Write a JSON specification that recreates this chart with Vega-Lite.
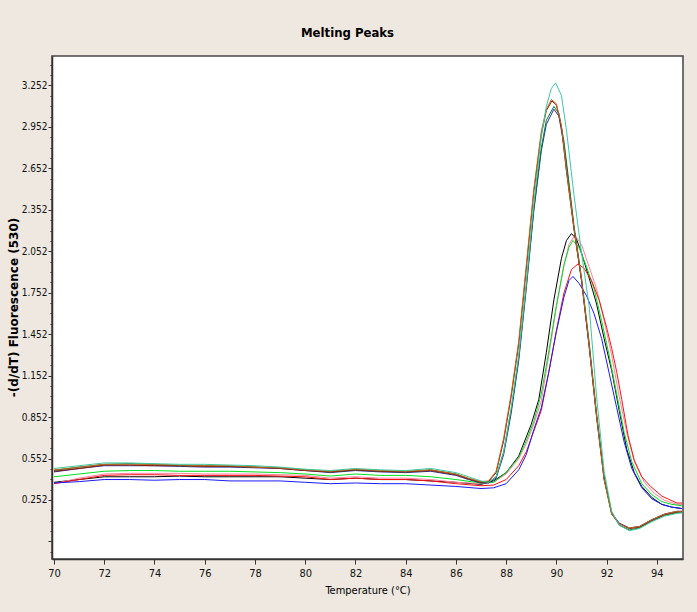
{
  "$schema": "https://vega.github.io/schema/vega-lite/v6.json",
  "autosize": {"type": "none"},
  "padding": {"left": 52, "top": 56, "right": 14, "bottom": 53},
  "width": 631,
  "height": 503,
  "background": "#EEE8E0",
  "title": {"text": "Melting Peaks", "font": "DejaVu Sans Condensed", "fontSize": 13, "fontWeight": "bold", "color": "#000000", "anchor": "middle", "dx": -20, "offset": 16},
  "config": {"view": {"stroke": "#444444", "strokeWidth": 1.5, "fill": "#FFFFFF"}},
  "data": {"values": [
{"s":"B1","t":70,"v":0.38},{"s":"B1","t":71,"v":0.40},{"s":"B1","t":72,"v":0.42},{"s":"B1","t":73,"v":0.42},{"s":"B1","t":74,"v":0.42},{"s":"B1","t":75,"v":0.425},{"s":"B1","t":76,"v":0.42},{"s":"B1","t":77,"v":0.42},{"s":"B1","t":78,"v":0.42},{"s":"B1","t":79,"v":0.42},{"s":"B1","t":80,"v":0.41},{"s":"B1","t":81,"v":0.40},{"s":"B1","t":82,"v":0.41},{"s":"B1","t":83,"v":0.40},{"s":"B1","t":84,"v":0.40},{"s":"B1","t":85,"v":0.39},{"s":"B1","t":86,"v":0.38},{"s":"B1","t":87,"v":0.365},{"s":"B1","t":87.5,"v":0.39},{"s":"B1","t":88.0,"v":0.45},{"s":"B1","t":88.5,"v":0.57},{"s":"B1","t":89.0,"v":0.80},{"s":"B1","t":89.3,"v":0.98},{"s":"B1","t":89.6,"v":1.32},{"s":"B1","t":89.9,"v":1.70},{"s":"B1","t":90.2,"v":2.00},{"s":"B1","t":90.4,"v":2.13},{"s":"B1","t":90.6,"v":2.18},{"s":"B1","t":90.8,"v":2.14},{"s":"B1","t":91.0,"v":2.04},{"s":"B1","t":91.3,"v":1.86},{"s":"B1","t":91.6,"v":1.67},{"s":"B1","t":91.9,"v":1.42},{"s":"B1","t":92.2,"v":1.19},{"s":"B1","t":92.5,"v":0.90},{"s":"B1","t":92.8,"v":0.62},{"s":"B1","t":93.1,"v":0.45},{"s":"B1","t":93.4,"v":0.35},{"s":"B1","t":93.8,"v":0.27},{"s":"B1","t":94.2,"v":0.22},{"s":"B1","t":94.6,"v":0.20},{"s":"B1","t":95.0,"v":0.19},
{"s":"B2","t":70,"v":0.37},{"s":"B2","t":71,"v":0.41},{"s":"B2","t":72,"v":0.44},{"s":"B2","t":73,"v":0.445},{"s":"B2","t":74,"v":0.445},{"s":"B2","t":75,"v":0.445},{"s":"B2","t":76,"v":0.44},{"s":"B2","t":77,"v":0.44},{"s":"B2","t":78,"v":0.44},{"s":"B2","t":79,"v":0.435},{"s":"B2","t":80,"v":0.43},{"s":"B2","t":81,"v":0.41},{"s":"B2","t":82,"v":0.42},{"s":"B2","t":83,"v":0.41},{"s":"B2","t":84,"v":0.41},{"s":"B2","t":85,"v":0.40},{"s":"B2","t":86,"v":0.38},{"s":"B2","t":87,"v":0.37},{"s":"B2","t":87.5,"v":0.38},{"s":"B2","t":88.0,"v":0.44},{"s":"B2","t":88.5,"v":0.55},{"s":"B2","t":88.8,"v":0.66},{"s":"B2","t":89.1,"v":0.80},{"s":"B2","t":89.4,"v":0.97},{"s":"B2","t":89.7,"v":1.30},{"s":"B2","t":90.0,"v":1.65},{"s":"B2","t":90.3,"v":1.95},{"s":"B2","t":90.5,"v":2.10},{"s":"B2","t":90.73,"v":2.17},{"s":"B2","t":91.0,"v":2.10},{"s":"B2","t":91.3,"v":1.94},{"s":"B2","t":91.6,"v":1.78},{"s":"B2","t":91.9,"v":1.55},{"s":"B2","t":92.2,"v":1.30},{"s":"B2","t":92.5,"v":1.00},{"s":"B2","t":92.8,"v":0.74},{"s":"B2","t":93.1,"v":0.53},{"s":"B2","t":93.5,"v":0.38},{"s":"B2","t":93.9,"v":0.30},{"s":"B2","t":94.3,"v":0.25},{"s":"B2","t":94.8,"v":0.22},{"s":"B2","t":95.0,"v":0.22},
{"s":"B3","t":70,"v":0.42},{"s":"B3","t":71,"v":0.44},{"s":"B3","t":72,"v":0.46},{"s":"B3","t":73,"v":0.465},{"s":"B3","t":74,"v":0.465},{"s":"B3","t":75,"v":0.46},{"s":"B3","t":76,"v":0.46},{"s":"B3","t":77,"v":0.46},{"s":"B3","t":78,"v":0.455},{"s":"B3","t":79,"v":0.45},{"s":"B3","t":80,"v":0.44},{"s":"B3","t":81,"v":0.425},{"s":"B3","t":82,"v":0.44},{"s":"B3","t":83,"v":0.43},{"s":"B3","t":84,"v":0.43},{"s":"B3","t":85,"v":0.42},{"s":"B3","t":86,"v":0.40},{"s":"B3","t":87,"v":0.375},{"s":"B3","t":87.5,"v":0.38},{"s":"B3","t":88.0,"v":0.45},{"s":"B3","t":88.5,"v":0.56},{"s":"B3","t":88.8,"v":0.68},{"s":"B3","t":89.1,"v":0.82},{"s":"B3","t":89.4,"v":1.02},{"s":"B3","t":89.7,"v":1.33},{"s":"B3","t":90.0,"v":1.66},{"s":"B3","t":90.3,"v":1.95},{"s":"B3","t":90.5,"v":2.08},{"s":"B3","t":90.66,"v":2.13},{"s":"B3","t":90.9,"v":2.08},{"s":"B3","t":91.2,"v":1.94},{"s":"B3","t":91.5,"v":1.78},{"s":"B3","t":91.8,"v":1.55},{"s":"B3","t":92.1,"v":1.30},{"s":"B3","t":92.4,"v":1.02},{"s":"B3","t":92.7,"v":0.74},{"s":"B3","t":93.0,"v":0.53},{"s":"B3","t":93.4,"v":0.37},{"s":"B3","t":93.8,"v":0.29},{"s":"B3","t":94.2,"v":0.24},{"s":"B3","t":94.6,"v":0.22},{"s":"B3","t":95.0,"v":0.21},
{"s":"B4","t":70,"v":0.37},{"s":"B4","t":71,"v":0.40},{"s":"B4","t":72,"v":0.43},{"s":"B4","t":73,"v":0.435},{"s":"B4","t":74,"v":0.435},{"s":"B4","t":75,"v":0.43},{"s":"B4","t":76,"v":0.43},{"s":"B4","t":77,"v":0.43},{"s":"B4","t":78,"v":0.43},{"s":"B4","t":79,"v":0.425},{"s":"B4","t":80,"v":0.42},{"s":"B4","t":81,"v":0.40},{"s":"B4","t":82,"v":0.41},{"s":"B4","t":83,"v":0.40},{"s":"B4","t":84,"v":0.40},{"s":"B4","t":85,"v":0.39},{"s":"B4","t":86,"v":0.37},{"s":"B4","t":87,"v":0.355},{"s":"B4","t":87.5,"v":0.36},{"s":"B4","t":88.0,"v":0.40},{"s":"B4","t":88.5,"v":0.50},{"s":"B4","t":88.8,"v":0.60},{"s":"B4","t":89.1,"v":0.75},{"s":"B4","t":89.4,"v":0.90},{"s":"B4","t":89.7,"v":1.18},{"s":"B4","t":90.0,"v":1.48},{"s":"B4","t":90.3,"v":1.75},{"s":"B4","t":90.6,"v":1.92},{"s":"B4","t":90.86,"v":1.96},{"s":"B4","t":91.1,"v":1.93},{"s":"B4","t":91.4,"v":1.84},{"s":"B4","t":91.7,"v":1.70},{"s":"B4","t":92.0,"v":1.50},{"s":"B4","t":92.2,"v":1.35},{"s":"B4","t":92.4,"v":1.18},{"s":"B4","t":92.6,"v":0.98},{"s":"B4","t":92.85,"v":0.72},{"s":"B4","t":93.1,"v":0.54},{"s":"B4","t":93.4,"v":0.42},{"s":"B4","t":93.75,"v":0.35},{"s":"B4","t":94.2,"v":0.28},{"s":"B4","t":94.8,"v":0.23},{"s":"B4","t":95.0,"v":0.23},
{"s":"B5","t":70,"v":0.375},{"s":"B5","t":71,"v":0.385},{"s":"B5","t":72,"v":0.40},{"s":"B5","t":73,"v":0.40},{"s":"B5","t":74,"v":0.395},{"s":"B5","t":75,"v":0.40},{"s":"B5","t":76,"v":0.40},{"s":"B5","t":77,"v":0.39},{"s":"B5","t":78,"v":0.39},{"s":"B5","t":79,"v":0.39},{"s":"B5","t":80,"v":0.38},{"s":"B5","t":81,"v":0.37},{"s":"B5","t":82,"v":0.375},{"s":"B5","t":83,"v":0.37},{"s":"B5","t":84,"v":0.37},{"s":"B5","t":85,"v":0.36},{"s":"B5","t":86,"v":0.35},{"s":"B5","t":87,"v":0.335},{"s":"B5","t":87.5,"v":0.34},{"s":"B5","t":88.0,"v":0.37},{"s":"B5","t":88.5,"v":0.47},{"s":"B5","t":88.8,"v":0.58},{"s":"B5","t":89.1,"v":0.76},{"s":"B5","t":89.4,"v":0.92},{"s":"B5","t":89.7,"v":1.18},{"s":"B5","t":90.0,"v":1.47},{"s":"B5","t":90.3,"v":1.72},{"s":"B5","t":90.5,"v":1.84},{"s":"B5","t":90.66,"v":1.87},{"s":"B5","t":90.9,"v":1.82},{"s":"B5","t":91.2,"v":1.73},{"s":"B5","t":91.5,"v":1.60},{"s":"B5","t":91.8,"v":1.42},{"s":"B5","t":92.1,"v":1.17},{"s":"B5","t":92.4,"v":0.92},{"s":"B5","t":92.7,"v":0.67},{"s":"B5","t":93.0,"v":0.48},{"s":"B5","t":93.4,"v":0.34},{"s":"B5","t":93.8,"v":0.26},{"s":"B5","t":94.2,"v":0.22},{"s":"B5","t":94.6,"v":0.20},{"s":"B5","t":95.0,"v":0.19},
{"s":"A4","t":70,"v":0.455},{"s":"A4","t":71,"v":0.48},{"s":"A4","t":72,"v":0.50},{"s":"A4","t":73,"v":0.50},{"s":"A4","t":74,"v":0.50},{"s":"A4","t":75,"v":0.495},{"s":"A4","t":76,"v":0.49},{"s":"A4","t":77,"v":0.49},{"s":"A4","t":78,"v":0.485},{"s":"A4","t":79,"v":0.48},{"s":"A4","t":80,"v":0.465},{"s":"A4","t":81,"v":0.45},{"s":"A4","t":82,"v":0.465},{"s":"A4","t":83,"v":0.455},{"s":"A4","t":84,"v":0.45},{"s":"A4","t":85,"v":0.46},{"s":"A4","t":86,"v":0.43},{"s":"A4","t":86.5,"v":0.40},{"s":"A4","t":87,"v":0.375},{"s":"A4","t":87.3,"v":0.375},{"s":"A4","t":87.6,"v":0.41},{"s":"A4","t":87.9,"v":0.58},{"s":"A4","t":88.2,"v":0.88},{"s":"A4","t":88.5,"v":1.26},{"s":"A4","t":88.8,"v":1.78},{"s":"A4","t":89.1,"v":2.34},{"s":"A4","t":89.4,"v":2.78},{"s":"A4","t":89.6,"v":2.97},{"s":"A4","t":89.9,"v":3.08},{"s":"A4","t":90.1,"v":3.03},{"s":"A4","t":90.3,"v":2.82},{"s":"A4","t":90.5,"v":2.52},{"s":"A4","t":90.7,"v":2.22},{"s":"A4","t":91.0,"v":1.84},{"s":"A4","t":91.3,"v":1.37},{"s":"A4","t":91.6,"v":0.86},{"s":"A4","t":91.9,"v":0.41},{"s":"A4","t":92.2,"v":0.16},{"s":"A4","t":92.5,"v":0.085},{"s":"A4","t":92.9,"v":0.05},{"s":"A4","t":93.3,"v":0.06},{"s":"A4","t":93.8,"v":0.11},{"s":"A4","t":94.3,"v":0.15},{"s":"A4","t":94.8,"v":0.17},{"s":"A4","t":95.0,"v":0.17},
{"s":"A5","t":70,"v":0.465},{"s":"A5","t":71,"v":0.49},{"s":"A5","t":72,"v":0.51},{"s":"A5","t":73,"v":0.515},{"s":"A5","t":74,"v":0.51},{"s":"A5","t":75,"v":0.50},{"s":"A5","t":76,"v":0.50},{"s":"A5","t":77,"v":0.495},{"s":"A5","t":78,"v":0.49},{"s":"A5","t":79,"v":0.485},{"s":"A5","t":80,"v":0.47},{"s":"A5","t":81,"v":0.455},{"s":"A5","t":82,"v":0.47},{"s":"A5","t":83,"v":0.46},{"s":"A5","t":84,"v":0.455},{"s":"A5","t":85,"v":0.47},{"s":"A5","t":86,"v":0.44},{"s":"A5","t":86.5,"v":0.405},{"s":"A5","t":87,"v":0.38},{"s":"A5","t":87.3,"v":0.38},{"s":"A5","t":87.6,"v":0.42},{"s":"A5","t":87.9,"v":0.60},{"s":"A5","t":88.2,"v":0.90},{"s":"A5","t":88.5,"v":1.28},{"s":"A5","t":88.8,"v":1.80},{"s":"A5","t":89.1,"v":2.36},{"s":"A5","t":89.4,"v":2.80},{"s":"A5","t":89.6,"v":3.00},{"s":"A5","t":89.9,"v":3.10},{"s":"A5","t":90.1,"v":3.05},{"s":"A5","t":90.3,"v":2.85},{"s":"A5","t":90.5,"v":2.55},{"s":"A5","t":90.7,"v":2.24},{"s":"A5","t":91.0,"v":1.86},{"s":"A5","t":91.3,"v":1.40},{"s":"A5","t":91.6,"v":0.88},{"s":"A5","t":91.9,"v":0.42},{"s":"A5","t":92.2,"v":0.16},{"s":"A5","t":92.5,"v":0.07},{"s":"A5","t":92.9,"v":0.035},{"s":"A5","t":93.3,"v":0.05},{"s":"A5","t":93.8,"v":0.10},{"s":"A5","t":94.3,"v":0.14},{"s":"A5","t":94.8,"v":0.16},{"s":"A5","t":95.0,"v":0.16},
{"s":"A3","t":70,"v":0.46},{"s":"A3","t":71,"v":0.48},{"s":"A3","t":72,"v":0.505},{"s":"A3","t":73,"v":0.505},{"s":"A3","t":74,"v":0.50},{"s":"A3","t":75,"v":0.50},{"s":"A3","t":76,"v":0.495},{"s":"A3","t":77,"v":0.495},{"s":"A3","t":78,"v":0.49},{"s":"A3","t":79,"v":0.48},{"s":"A3","t":80,"v":0.465},{"s":"A3","t":81,"v":0.455},{"s":"A3","t":82,"v":0.47},{"s":"A3","t":83,"v":0.46},{"s":"A3","t":84,"v":0.455},{"s":"A3","t":85,"v":0.465},{"s":"A3","t":86,"v":0.435},{"s":"A3","t":86.5,"v":0.405},{"s":"A3","t":87,"v":0.38},{"s":"A3","t":87.3,"v":0.385},{"s":"A3","t":87.6,"v":0.45},{"s":"A3","t":87.9,"v":0.68},{"s":"A3","t":88.2,"v":1.00},{"s":"A3","t":88.5,"v":1.38},{"s":"A3","t":88.8,"v":1.92},{"s":"A3","t":89.1,"v":2.48},{"s":"A3","t":89.4,"v":2.90},{"s":"A3","t":89.6,"v":3.07},{"s":"A3","t":89.82,"v":3.14},{"s":"A3","t":90.0,"v":3.11},{"s":"A3","t":90.2,"v":2.95},{"s":"A3","t":90.4,"v":2.63},{"s":"A3","t":90.7,"v":2.21},{"s":"A3","t":91.0,"v":1.84},{"s":"A3","t":91.3,"v":1.37},{"s":"A3","t":91.6,"v":0.85},{"s":"A3","t":91.9,"v":0.40},{"s":"A3","t":92.2,"v":0.15},{"s":"A3","t":92.5,"v":0.08},{"s":"A3","t":92.9,"v":0.045},{"s":"A3","t":93.3,"v":0.055},{"s":"A3","t":93.8,"v":0.105},{"s":"A3","t":94.3,"v":0.145},{"s":"A3","t":94.8,"v":0.165},{"s":"A3","t":95.0,"v":0.165},
{"s":"A2","t":70,"v":0.47},{"s":"A2","t":71,"v":0.49},{"s":"A2","t":72,"v":0.51},{"s":"A2","t":73,"v":0.51},{"s":"A2","t":74,"v":0.51},{"s":"A2","t":75,"v":0.505},{"s":"A2","t":76,"v":0.50},{"s":"A2","t":77,"v":0.50},{"s":"A2","t":78,"v":0.49},{"s":"A2","t":79,"v":0.485},{"s":"A2","t":80,"v":0.47},{"s":"A2","t":81,"v":0.46},{"s":"A2","t":82,"v":0.475},{"s":"A2","t":83,"v":0.465},{"s":"A2","t":84,"v":0.46},{"s":"A2","t":85,"v":0.47},{"s":"A2","t":86,"v":0.44},{"s":"A2","t":86.5,"v":0.41},{"s":"A2","t":87,"v":0.385},{"s":"A2","t":87.3,"v":0.39},{"s":"A2","t":87.6,"v":0.46},{"s":"A2","t":87.9,"v":0.70},{"s":"A2","t":88.2,"v":1.02},{"s":"A2","t":88.5,"v":1.40},{"s":"A2","t":88.8,"v":1.95},{"s":"A2","t":89.1,"v":2.50},{"s":"A2","t":89.4,"v":2.92},{"s":"A2","t":89.6,"v":3.08},{"s":"A2","t":89.8,"v":3.15},{"s":"A2","t":90.0,"v":3.12},{"s":"A2","t":90.2,"v":2.96},{"s":"A2","t":90.4,"v":2.64},{"s":"A2","t":90.7,"v":2.22},{"s":"A2","t":91.0,"v":1.85},{"s":"A2","t":91.3,"v":1.38},{"s":"A2","t":91.6,"v":0.86},{"s":"A2","t":91.9,"v":0.40},{"s":"A2","t":92.2,"v":0.15},{"s":"A2","t":92.5,"v":0.08},{"s":"A2","t":92.9,"v":0.05},{"s":"A2","t":93.3,"v":0.06},{"s":"A2","t":93.8,"v":0.11},{"s":"A2","t":94.3,"v":0.15},{"s":"A2","t":94.8,"v":0.17},{"s":"A2","t":95.0,"v":0.17},
{"s":"A1","t":70,"v":0.48},{"s":"A1","t":71,"v":0.50},{"s":"A1","t":72,"v":0.52},{"s":"A1","t":73,"v":0.52},{"s":"A1","t":74,"v":0.515},{"s":"A1","t":75,"v":0.51},{"s":"A1","t":76,"v":0.51},{"s":"A1","t":77,"v":0.505},{"s":"A1","t":78,"v":0.50},{"s":"A1","t":79,"v":0.49},{"s":"A1","t":80,"v":0.475},{"s":"A1","t":81,"v":0.465},{"s":"A1","t":82,"v":0.48},{"s":"A1","t":83,"v":0.47},{"s":"A1","t":84,"v":0.465},{"s":"A1","t":85,"v":0.48},{"s":"A1","t":86,"v":0.45},{"s":"A1","t":86.5,"v":0.42},{"s":"A1","t":87,"v":0.39},{"s":"A1","t":87.3,"v":0.38},{"s":"A1","t":87.6,"v":0.42},{"s":"A1","t":87.9,"v":0.60},{"s":"A1","t":88.2,"v":0.92},{"s":"A1","t":88.5,"v":1.30},{"s":"A1","t":88.8,"v":1.82},{"s":"A1","t":89.1,"v":2.40},{"s":"A1","t":89.4,"v":2.88},{"s":"A1","t":89.6,"v":3.10},{"s":"A1","t":89.8,"v":3.23},{"s":"A1","t":89.97,"v":3.27},{"s":"A1","t":90.2,"v":3.18},{"s":"A1","t":90.4,"v":2.93},{"s":"A1","t":90.7,"v":2.46},{"s":"A1","t":91.0,"v":2.04},{"s":"A1","t":91.3,"v":1.66},{"s":"A1","t":91.6,"v":1.00},{"s":"A1","t":91.9,"v":0.46},{"s":"A1","t":92.2,"v":0.17},{"s":"A1","t":92.5,"v":0.07},{"s":"A1","t":92.9,"v":0.03},{"s":"A1","t":93.3,"v":0.045},{"s":"A1","t":93.8,"v":0.095},{"s":"A1","t":94.3,"v":0.135},{"s":"A1","t":94.8,"v":0.155},{"s":"A1","t":95.0,"v":0.16}
  ]},
  "mark": {"type": "line", "strokeWidth": 1, "clip": true},
  "encoding": {
    "x": {"field": "t", "type": "quantitative",
      "scale": {"domain": [69.92, 95.04], "nice": false, "zero": false},
      "axis": {"title": "Temperature (°C)", "values": [70,72,74,76,78,80,82,84,86,88,90,92,94],
        "labelFont": "DejaVu Sans Condensed", "labelFontSize": 11, "labelColor": "#111111", "labelPadding": 3,
        "tickSize": 5, "tickColor": "#333333", "domainColor": "#333333", "domainWidth": 1.5,
        "titleFont": "DejaVu Sans Condensed", "titleFontSize": 11, "titleFontWeight": "normal", "titleColor": "#000000", "titlePadding": 6, "grid": false}},
    "y": {"field": "v", "type": "quantitative",
      "scale": {"domain": [-0.175, 3.465], "nice": false, "zero": false},
      "axis": {"title": "-(d/dT) Fluorescence (530)",
        "values": [-0.123,-0.048,0.027,0.102,0.177,0.252,0.327,0.402,0.477,0.552,0.627,0.702,0.777,0.852,0.927,1.002,1.077,1.152,1.227,1.302,1.377,1.452,1.527,1.602,1.677,1.752,1.827,1.902,1.977,2.052,2.127,2.202,2.277,2.352,2.427,2.502,2.577,2.652,2.727,2.802,2.877,2.952,3.027,3.102,3.177,3.252,3.327,3.402],
        "labelExpr": "datum.value > 0.2 && abs((datum.value-0.252)/0.3 - round((datum.value-0.252)/0.3)) < 0.05 ? format(datum.value, '.3f') : ''",
        "tickSize": {"condition": {"test": "abs((datum.value-0.252)/0.3 - round((datum.value-0.252)/0.3)) < 0.05", "value": 4}, "value": 2},
        "labelFont": "DejaVu Sans Condensed", "labelFontSize": 10, "labelColor": "#111111", "labelPadding": 1,
        "tickColor": "#333333", "domainColor": "#333333", "domainWidth": 1.5,
        "titleFont": "DejaVu Sans", "titleFontSize": 12, "titleFontWeight": "bold", "titleColor": "#000000",
        "titleX": -32, "titleY": 251, "titleAngle": -90, "titleAlign": "center", "titleBaseline": "bottom", "grid": false}},
    "color": {"field": "s", "type": "nominal", "legend": null,
      "scale": {"domain": ["B1","B2","B3","B4","B5","A4","A5","A3","A2","A1"],
        "range": ["#000000","#ff7fa0","#00e020","#ff1010","#1a1aff","#2b2b9f","#007a3d","#8b1a00","#c0651e","#3cc9a0"]}}
  }
}
